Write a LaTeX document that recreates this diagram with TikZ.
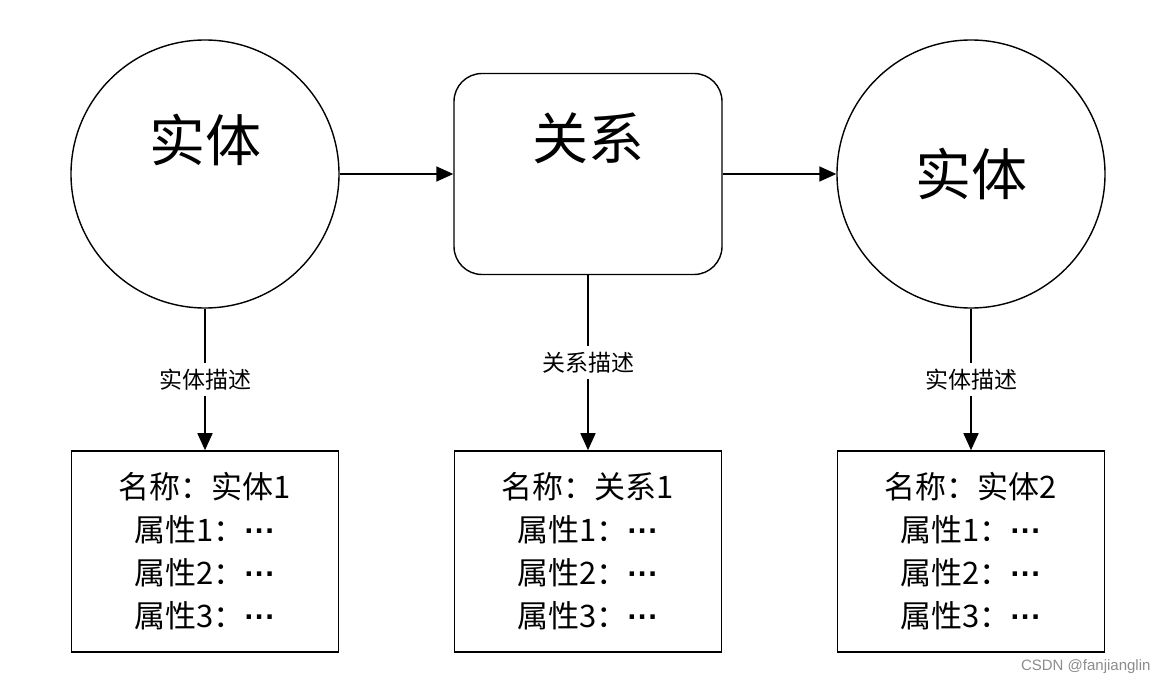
\documentclass[tikz,border=0pt]{standalone}
\usepackage{fontspec}
\newfontfamily\cjk{Noto Sans CJK SC}
\newfontfamily\marksans{Liberation Sans}
\usepackage{tikz}
\usetikzlibrary{arrows.meta}
\usetikzlibrary{positioning}

\newcommand{\middots}{{\marksans\bfseries ···}}

\tikzset{
  bigtext/.style={font=\cjk\fontsize{56}{60}\selectfont},
  entity/.style={circle,draw,line width=1.4pt,minimum size=268pt,inner sep=0pt,bigtext},
  relation/.style={rectangle,rounded corners=28pt,draw,line width=1.4pt,minimum width=268pt,minimum height=201pt,inner sep=0pt},
  attrbox/.style={rectangle,draw,line width=1.6pt,minimum width=267pt,minimum height=201pt,align=center,font=\cjk\fontsize{31}{43}\selectfont},
  desclabel/.style={fill=white,inner sep=6pt,font=\cjk\fontsize{23}{25}\selectfont},
  arr/.style={line width=1.6pt,-{Triangle[length=17pt,width=15pt]}}
}

\begin{document}
\begin{tikzpicture}[x=1pt,y=-1pt]
\useasboundingbox (0,0) rectangle (1167,687);
% entities and relation
\node[entity,label={[bigtext,yshift=34pt]center:实体}] (ent1) at (205,174) {};
\node[relation,label={[bigtext,yshift=36pt]center:关系}] (rel) at (588,174) {};
\node[entity] (ent2) at (971,174) {实体};
% attribute boxes
\node[attrbox] (desc1) at (205,551.5) {名称：实体1\\属性1：\middots\\属性2：\middots\\属性3：\middots};
\node[attrbox] (desc2) at (588,551.5) {名称：关系1\\属性1：\middots\\属性2：\middots\\属性3：\middots};
\node[attrbox] (desc3) at (971,551.5) {名称：实体2\\属性1：\middots\\属性2：\middots\\属性3：\middots};
% connectors
\draw[arr] (ent1) -- (rel);
\draw[arr] (rel) -- (ent2);
\draw[arr] (ent1) -- node[desclabel] {实体描述} (desc1);
\draw[arr] (rel) -- node[desclabel] {关系描述} (desc2);
\draw[arr] (ent2) -- node[desclabel] {实体描述} (desc3);
\node[anchor=east,text=black!45,font=\marksans\fontsize{15}{16}\selectfont] (mark) at (1154,667) {CSDN @fanjianglin};
\end{tikzpicture}
\end{document}
